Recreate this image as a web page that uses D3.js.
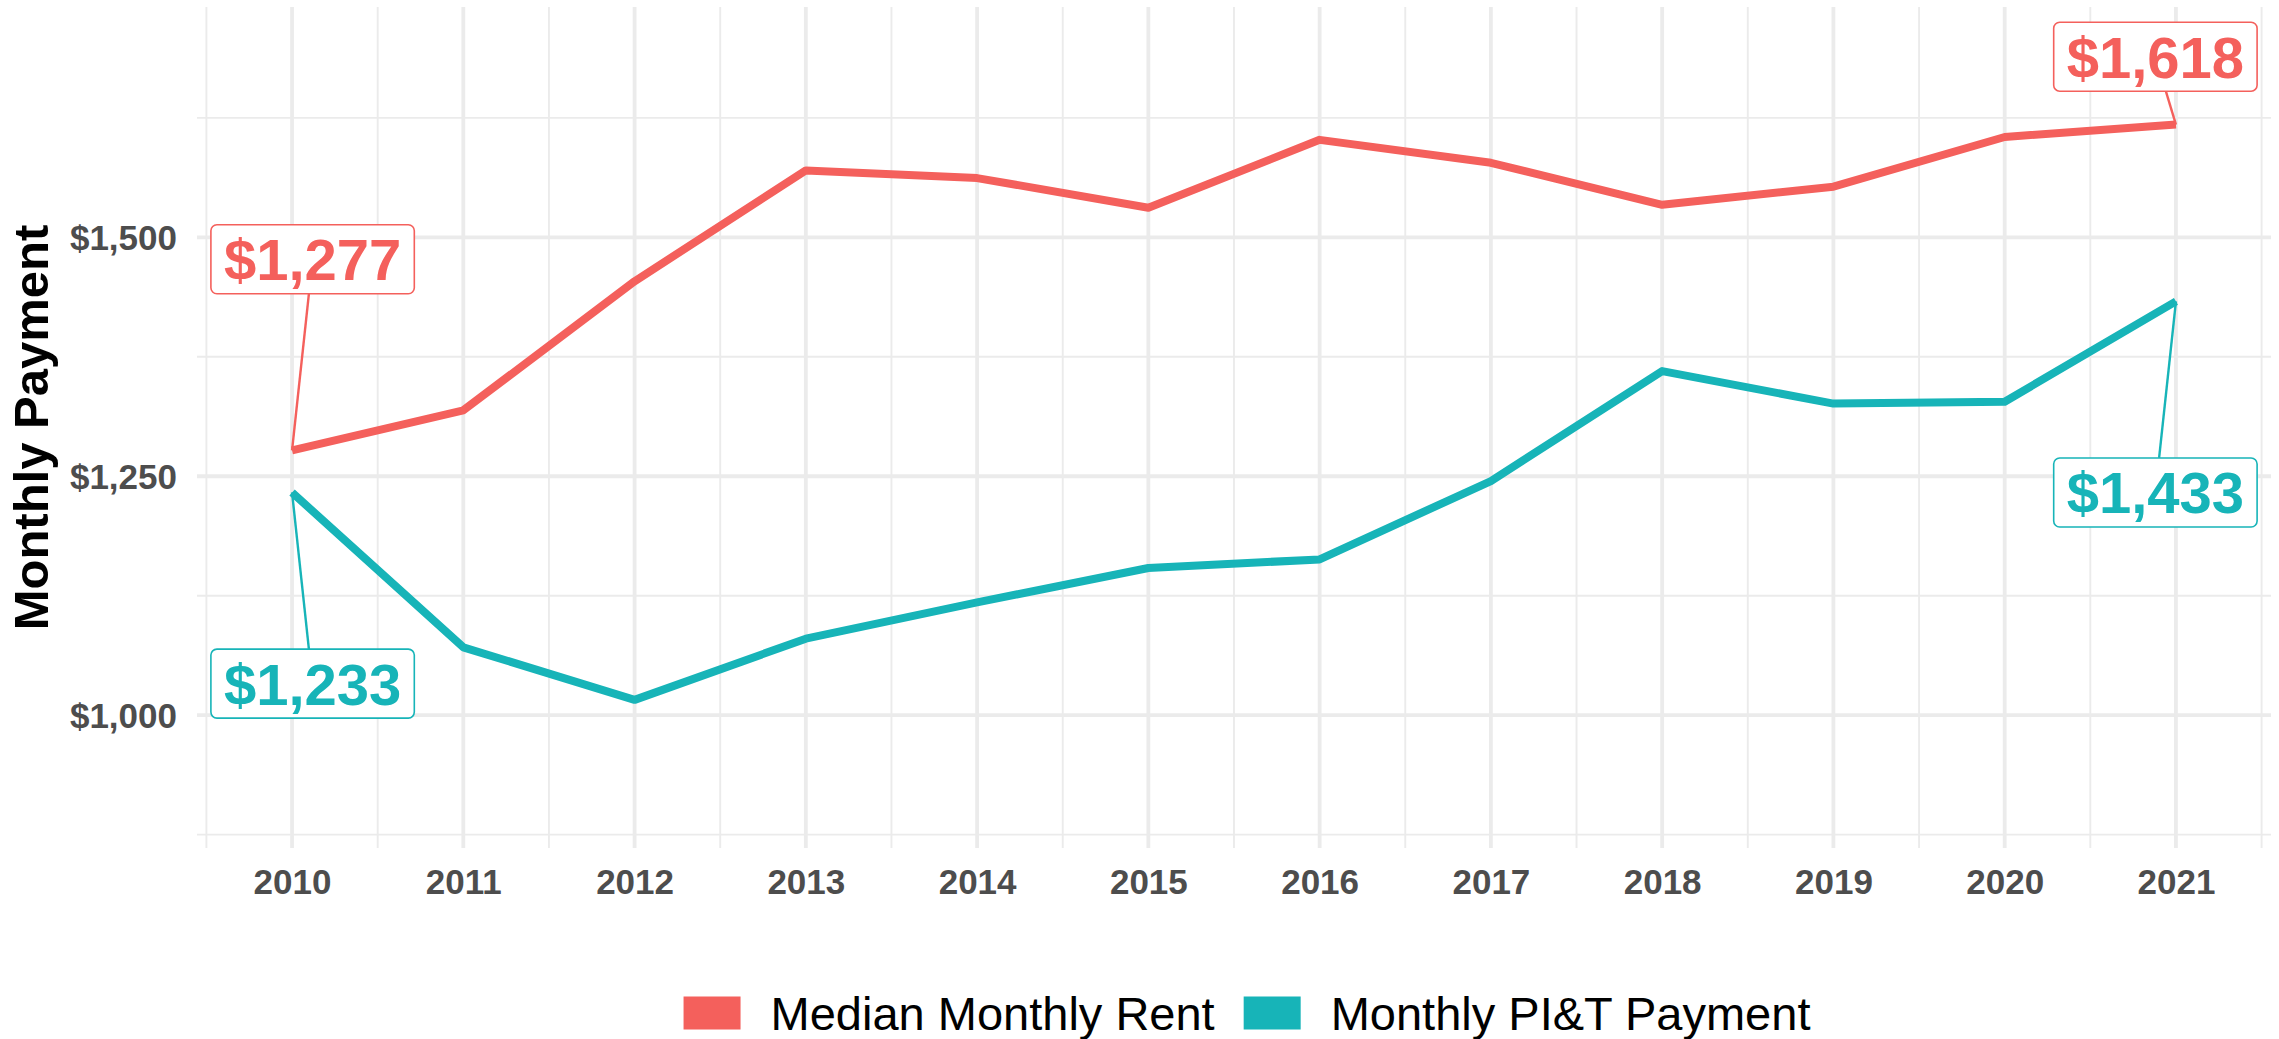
<!DOCTYPE html>
<html>
<head>
<meta charset="utf-8">
<script src="https://cdn.jsdelivr.net/npm/d3@7"></script>
<style>
  html, body { margin: 0; padding: 0; background: #ffffff; }
  svg { display: block; }
</style>
</head>
<body>
<svg id="chart" width="2279" height="1039"></svg>
<script>
// ---- data ----
const years = [2010, 2011, 2012, 2013, 2014, 2015, 2016, 2017, 2018, 2019, 2020, 2021];
const medianRent = [1277, 1319, 1454, 1570, 1562, 1531, 1602, 1578, 1534, 1553, 1605, 1618];
const monthlyPITI = [1233, 1071, 1016, 1080, 1118, 1154, 1163, 1245, 1360, 1326, 1328, 1433];
const seriesNames = ["Median Monthly Rent", "Monthly PI&T Payment"];
const xTickLabels = years.map(String);
const yMajorTicks = [1000, 1250, 1500];
const yMinorTicks = [875, 1125, 1375, 1625];
const yAxisTitle = "Monthly Payment";

// ---- layout / style ----
const W = 2279, H = 1039;
const panel = { left: 197, right: 2271, top: 7, bottom: 848 };
const colors = ["#F4605C", "#17B4B8"];
const gridColor = "#EBEBEB";
const axisTextColor = "#4D4D4D";
const fontFamily = "'Liberation Sans', Arial, Helvetica, sans-serif";

// callout boxes for first and last values, placed in data units
const callouts = [
  { series: 0, index: 0,  x: 2010.12, y: 1477 },
  { series: 1, index: 0,  x: 2010.12, y: 1033 },
  { series: 0, index: 11, x: 2020.88, y: 1689 },
  { series: 1, index: 11, x: 2020.88, y: 1233 }
];

const series = [medianRent, monthlyPITI].map((vals, i) => ({
  name: seriesNames[i],
  color: colors[i],
  points: years.map((yr, j) => ({ year: yr, value: vals[j] }))
}));

const svg = d3.select("#chart");

const x = d3.scaleLinear()
  .domain([d3.min(years) - 0.555, d3.max(years) + 0.555])
  .range([panel.left, panel.right]);
const y = d3.scaleLinear()
  .domain([861, 1741])
  .range([panel.bottom, panel.top]);

// ---- grid ----
const grid = svg.append("g").attr("class", "grid");
const xMinor = d3.range(d3.min(years) - 0.5, d3.max(years) + 1, 1);

grid.selectAll("line.ymin").data(yMinorTicks).join("line")
  .attr("x1", panel.left).attr("x2", panel.right)
  .attr("y1", d => y(d)).attr("y2", d => y(d))
  .attr("stroke", gridColor).attr("stroke-width", 1.9);
grid.selectAll("line.xmin").data(xMinor).join("line")
  .attr("x1", d => x(d)).attr("x2", d => x(d))
  .attr("y1", panel.top).attr("y2", panel.bottom)
  .attr("stroke", gridColor).attr("stroke-width", 1.9);
grid.selectAll("line.ymaj").data(yMajorTicks).join("line")
  .attr("x1", panel.left).attr("x2", panel.right)
  .attr("y1", d => y(d)).attr("y2", d => y(d))
  .attr("stroke", gridColor).attr("stroke-width", 3.8);
grid.selectAll("line.xmaj").data(years).join("line")
  .attr("x1", d => x(d)).attr("x2", d => x(d))
  .attr("y1", panel.top).attr("y2", panel.bottom)
  .attr("stroke", gridColor).attr("stroke-width", 3.8);

// ---- axes (labels only) ----
const xAxis = d3.axisBottom(x)
  .tickValues(years)
  .tickFormat((d, i) => xTickLabels[i])
  .tickSize(0).tickPadding(0);
const gx = svg.append("g").attr("transform", `translate(0,${panel.bottom})`).call(xAxis);
gx.select(".domain").remove();
gx.selectAll("text")
  .attr("dy", null).attr("y", 46)
  .attr("font-family", fontFamily).attr("font-size", 35).attr("font-weight", "bold")
  .attr("fill", axisTextColor);

const yAxis = d3.axisLeft(y)
  .tickValues(yMajorTicks)
  .tickFormat(d3.format("$,"))
  .tickSize(0).tickPadding(0);
const gy = svg.append("g").attr("transform", `translate(177,0)`).call(yAxis);
gy.select(".domain").remove();
gy.selectAll("text")
  .attr("x", 0).attr("dy", "0.355em")
  .attr("font-family", fontFamily).attr("font-size", 35).attr("font-weight", "bold")
  .attr("fill", axisTextColor);

svg.append("text")
  .attr("transform", `translate(48,${(panel.top + panel.bottom) / 2}) rotate(-90)`)
  .attr("text-anchor", "middle")
  .attr("font-family", fontFamily).attr("font-size", 49).attr("font-weight", "bold")
  .attr("fill", "#000000")
  .text(yAxisTitle);

// ---- lines ----
const line = d3.line().x(d => x(d.year)).y(d => y(d.value));
svg.append("g").selectAll("path").data(series).join("path")
  .attr("d", d => line(d.points))
  .attr("fill", "none")
  .attr("stroke", d => d.color)
  .attr("stroke-width", 8)
  .attr("stroke-linejoin", "round")
  .attr("stroke-linecap", "butt");

// ---- callouts ----
const fmt = d3.format("$,");
const labelFont = 58;
const cg = svg.append("g");
callouts.forEach(c => {
  const s = series[c.series];
  const p = s.points[c.index];
  const px = x(p.year), py = y(p.value);
  const cx = x(c.x), cy = y(c.y);
  const t = cg.append("text")
    .attr("x", cx).attr("y", cy + 0.36 * labelFont)
    .attr("text-anchor", "middle")
    .attr("font-family", fontFamily).attr("font-size", labelFont).attr("font-weight", "bold")
    .attr("fill", s.color)
    .text(fmt(p.value));
  const tw = t.node().getComputedTextLength();
  const bw = tw + 26, bh = 69;
  // segment from the box edge to the point
  const dx = px - cx, dy = py - cy;
  const k = Math.min(Math.abs((bw / 2) / (dx || 1e-9)), Math.abs((bh / 2) / (dy || 1e-9)));
  cg.insert("line", "text")
    .attr("x1", cx + dx * k).attr("y1", cy + dy * k)
    .attr("x2", px).attr("y2", py)
    .attr("stroke", s.color).attr("stroke-width", 2.4);
  cg.insert("rect", "text")
    .attr("x", cx - bw / 2).attr("y", cy - bh / 2)
    .attr("width", bw).attr("height", bh)
    .attr("rx", 6).attr("ry", 6)
    .attr("fill", "#ffffff")
    .attr("stroke", s.color).attr("stroke-width", 1.6);
  t.raise();
});

// ---- legend ----
const legend = svg.append("g");
const keyW = 57, keyH = 33, keyGap = 30, itemGap = 29, legendFont = 47;
const legendCenterY = 1013;
let cursor = 0;
const items = series.map(s => {
  const g = legend.append("g");
  g.append("rect").attr("width", keyW).attr("height", keyH)
    .attr("y", legendCenterY - keyH / 2).attr("fill", s.color);
  const tx = g.append("text")
    .attr("x", keyW + keyGap).attr("y", legendCenterY + 0.358 * legendFont)
    .attr("font-family", fontFamily).attr("font-size", legendFont)
    .attr("fill", "#000000").text(s.name);
  const w = keyW + keyGap + tx.node().getComputedTextLength();
  return { g, w };
});
const total = d3.sum(items, d => d.w) + itemGap * (items.length - 1);
cursor = 1247 - total / 2;
items.forEach(it => {
  it.g.attr("transform", `translate(${cursor},0)`);
  cursor += it.w + itemGap;
});
</script>
</body>
</html>
